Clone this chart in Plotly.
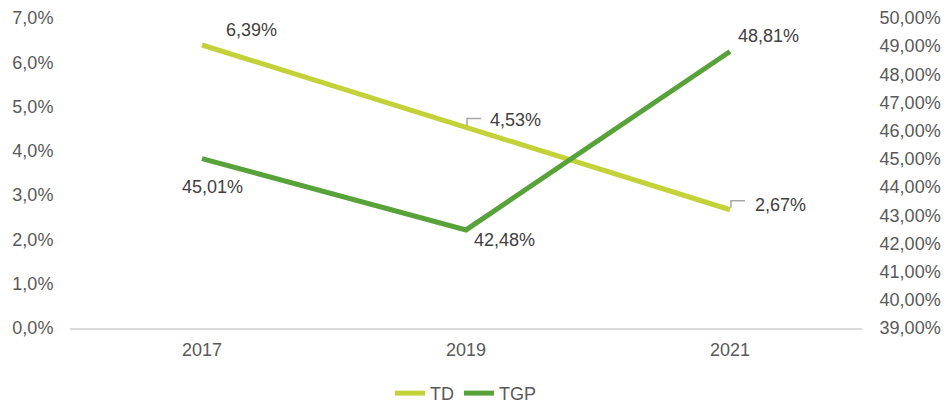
import plotly.graph_objects as go

years = ["2017", "2019", "2021"]
td = [6.39, 4.53, 2.67]
tgp = [45.01, 42.48, 48.81]
td_labels = ["6,39%", "4,53%", "2,67%"]
tgp_labels = ["45,01%", "42,48%", "48,81%"]
left_ticks = [0, 1, 2, 3, 4, 5, 6, 7]
left_ticktext = ["0,0%", "1,0%", "2,0%", "3,0%", "4,0%", "5,0%", "6,0%", "7,0%"]
right_ticks = [39, 40, 41, 42, 43, 44, 45, 46, 47, 48, 49, 50]
right_ticktext = ["39,00%", "40,00%", "41,00%", "42,00%", "43,00%", "44,00%",
                  "45,00%", "46,00%", "47,00%", "48,00%", "49,00%", "50,00%"]

TD_COLOR = "#c4d239"
TGP_COLOR = "#58a23a"
LABEL_COLOR = "#404040"
TICK_COLOR = "#595959"
FONT = "Liberation Sans"
FS = 18

fig = go.Figure()
fig.add_trace(go.Scatter(x=years, y=td, name="TD", mode="lines",
                         line=dict(color=TD_COLOR, width=5), yaxis="y"))
fig.add_trace(go.Scatter(x=years, y=tgp, name="TGP", mode="lines",
                         line=dict(color=TGP_COLOR, width=5), yaxis="y2"))

# data labels: pixel shifts from each point
td_shift = [(22, 15), (22, 7), (23, 5)]
for i, (v, t) in enumerate(zip(td, td_labels)):
    sx, sy = td_shift[i]
    fig.add_annotation(x=i, y=v, xref="x", yref="y", text=t, showarrow=False,
                       xshift=sx, yshift=sy, xanchor="left", yanchor="middle",
                       font=dict(family=FONT, size=FS, color=LABEL_COLOR))

tgp_shift = [(10, -28), (38, -10), (38, 16)]
for i, (v, t) in enumerate(zip(tgp, tgp_labels)):
    sx, sy = tgp_shift[i]
    fig.add_annotation(x=i, y=v, xref="x", yref="y2", text=t, showarrow=False,
                       xshift=sx, yshift=sy, xanchor="center", yanchor="middle",
                       font=dict(family=FONT, size=FS, color=LABEL_COLOR))

# leader lines for the TD labels of 2019 and 2021
for i in (1, 2):
    fig.add_shape(type="path", xref="x", yref="y", xsizemode="pixel", ysizemode="pixel",
                  xanchor=i, yanchor=td[i], path="M1,2 L1,9 L15,9",
                  line=dict(color="#a6a6a6", width=1.5))

fig.update_layout(
    width=945, height=406,
    margin=dict(l=70, r=83, t=18, b=78, autoexpand=False),
    paper_bgcolor="white", plot_bgcolor="white",
    font=dict(family=FONT, size=FS, color=TICK_COLOR),
    showlegend=True,
    legend=dict(orientation="h", x=0.5, xanchor="center", y=-0.211, yanchor="middle",
                font=dict(family=FONT, size=FS, color=TICK_COLOR)),
    xaxis=dict(type="category", range=[-0.5, 2.5], showgrid=False, showline=True,
               linecolor="#d9d9d9", linewidth=1.5, zeroline=False,
               ticks="outside", ticklen=5, tickcolor="rgba(0,0,0,0)",
               tickfont=dict(family=FONT, size=FS, color=TICK_COLOR)),
    yaxis=dict(range=[0, 7], tickvals=left_ticks, ticktext=left_ticktext,
               showgrid=False, zeroline=False, showline=False,
               ticks="outside", ticklen=12, tickcolor="rgba(0,0,0,0)",
               tickfont=dict(family=FONT, size=FS, color=TICK_COLOR)),
    yaxis2=dict(range=[39, 50], tickvals=right_ticks, ticktext=right_ticktext,
                overlaying="y", side="right", showgrid=False, zeroline=False,
                showline=False, ticks="outside", ticklen=13, tickcolor="rgba(0,0,0,0)",
                tickfont=dict(family=FONT, size=FS, color=TICK_COLOR)),
)

fig.write_html("out.html", config={"displayModeBar": False},
               post_script="document.body.style.margin='0px';")
